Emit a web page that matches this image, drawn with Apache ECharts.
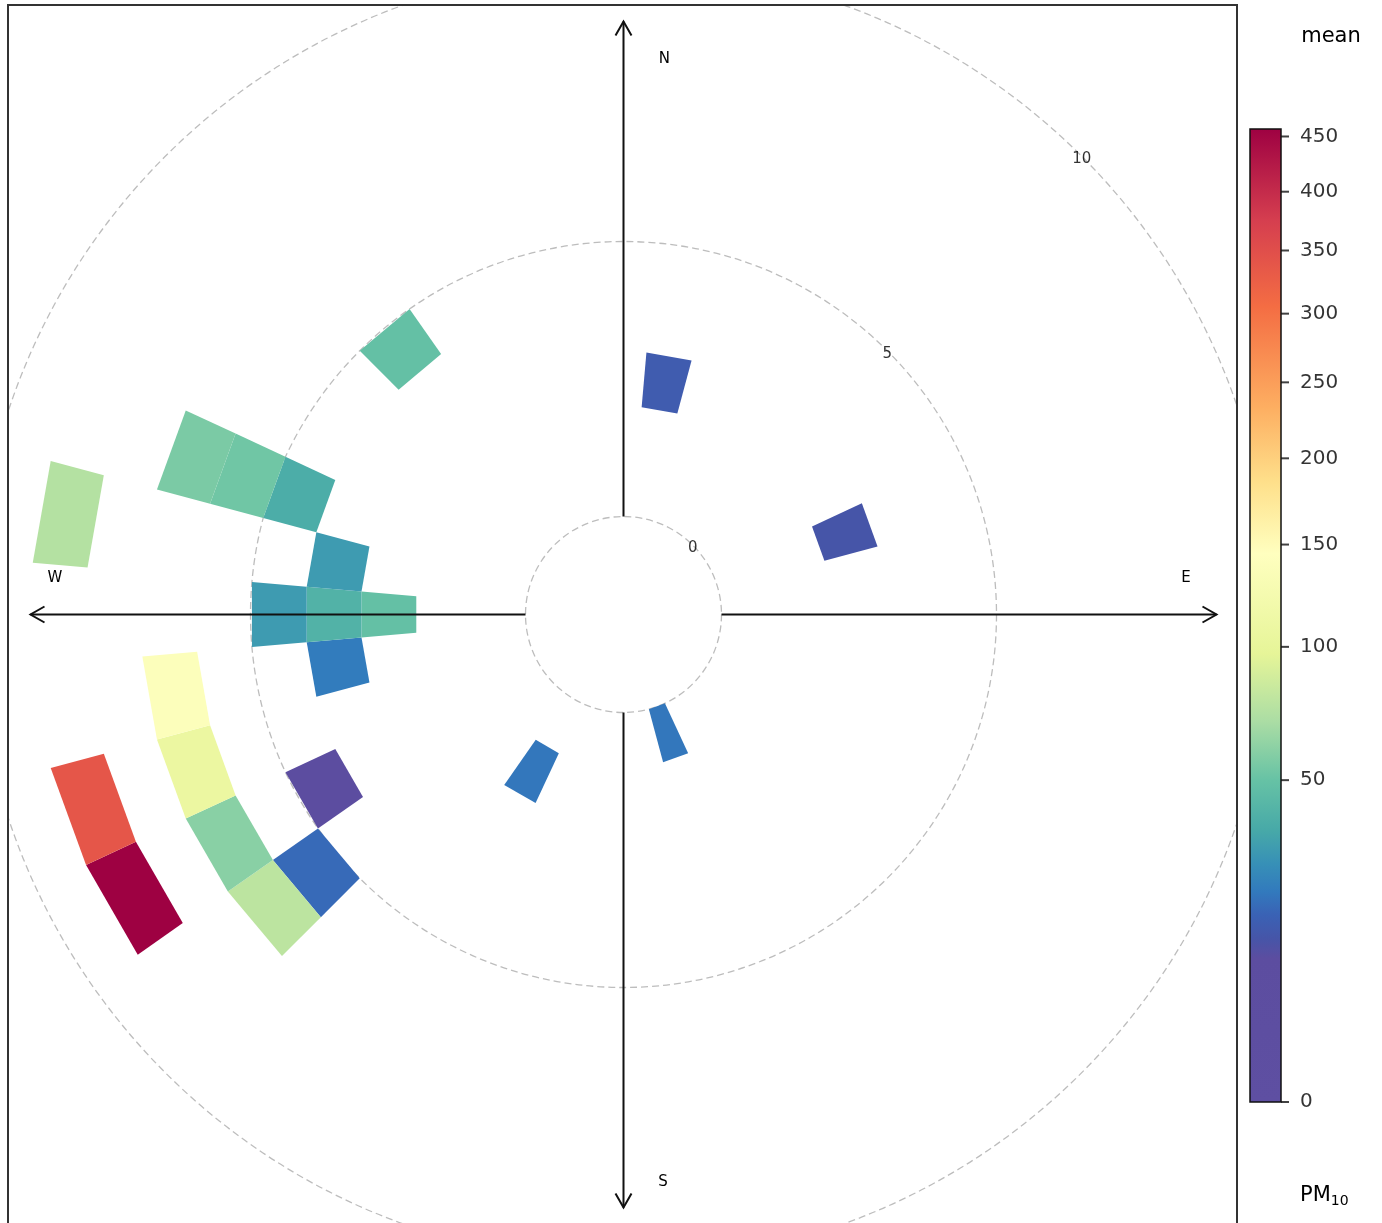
<!DOCTYPE html>
<html>
<head>
<meta charset="utf-8">
<script src="https://cdn.jsdelivr.net/npm/echarts@6/dist/echarts.min.js"></script>
<style>
html,body{margin:0;padding:0;background:#fff;}
#chart{width:1382px;height:1223px;}
</style>
</head>
<body>
<div id="chart"></div>
<script>
// ---------- data ----------
const windDir      = [10, 70, 160, 210, 230, 230, 240, 240, 240, 250, 250, 260, 260, 270, 270, 270, 280, 280, 290, 290, 290, 320];
const windSpeedBin = [ 2,  2,   0,   1,   5,   6,   4,   6,   8,   6,   8,   3,   6,   2,   3,   4,   3,   8,   4,   5,   6,   4];
const meanPM10     = [15, 13,  21,  21, 18.5, 78,   9,  60, 457, 108, 340,  22, 140,  49,  41,  31,  31,  74,  38,  53,  56,  49];
const radiusTicks  = [0, 5, 10];
const compassLabels = ['N', 'E', 'S', 'W'];
const compassAngles = [0, 90, 180, 270];
const keyTicks = [0, 50, 100, 150, 200, 250, 300, 350, 400, 450];
const keyMax = 457;

// ---------- colour palette (key colours sampled from the legend) ----------
const paletteValues = [0, 10, 13, 17, 21.5, 27.5, 35.7, 50, 70, 97, 145, 185, 233, 305, 375, 457];
const paletteColors = ['#5E4FA2','#5C4DA0','#4655A8','#3A62B5','#327ABD','#3790B7','#47A9A8','#66C2A5',
                       '#ABDDA4','#E6F598','#FFFFBF','#FEE08B','#FDAE61','#F46D43','#D53E4F','#9E0142'];
function colorIndex(v) {
  for (let i = 0; i < paletteValues.length - 1; i++) {
    if (v <= paletteValues[i + 1]) {
      return i + (v - paletteValues[i]) / (paletteValues[i + 1] - paletteValues[i]);
    }
  }
  return paletteValues.length - 1;
}
const gradientStops = paletteValues.map((v, i) => ({
  offset: 1 - Math.sqrt(v) / Math.sqrt(keyMax),
  color: paletteColors[i]
})).reverse();

const cellData = windDir.map((d, i) => [windSpeedBin[i], d, meanPM10[i], colorIndex(meanPM10[i])]);

const FONT = 'DejaVu Sans, Liberation Sans, sans-serif';
// label placement for the compass letters (polar radius, angle)
const compassLabelPos = [[8.38, 4.2], [8.47, 86.1], [8.52, 176], [8.58, 273.9]];

const chart = echarts.init(document.getElementById('chart'), null, {renderer: 'canvas'});

const option = {
  animation: false,
  backgroundColor: '#fff',
  polar: { center: [623.5, 614.5], radius: [98, 648] },
  angleAxis: {
    type: 'value', min: 0, max: 360, startAngle: 90, clockwise: true,
    axisLine: {show: false}, axisTick: {show: false}, axisLabel: {show: false}, splitLine: {show: false}
  },
  radiusAxis: {
    type: 'value', min: 0, max: 10, interval: 5,
    axisLine: {show: false}, axisTick: {show: false}, axisLabel: {show: false},
    splitLine: {show: true, lineStyle: {color: '#bdbdbd', width: 1.3, type: [7, 4]}}
  },
  grid: { left: 1250, top: 129, width: 31, height: 973 },
  xAxis: { type: 'value', min: 0, max: 1, show: false },
  yAxis: { type: 'value', min: 0, max: Math.sqrt(keyMax), show: false },
  visualMap: {
    show: false, type: 'continuous', seriesIndex: 0, dimension: 3,
    min: 0, max: paletteColors.length - 1,
    inRange: { color: paletteColors }
  },
  series: [
    {
      type: 'custom',
      coordinateSystem: 'polar',
      z: 2,
      data: cellData,
      renderItem: function (params, api) {
        const ws = api.value(0), dir = api.value(1);
        const pts = [
          api.coord([ws, dir - 5]),
          api.coord([ws, dir + 5]),
          api.coord([ws + 1, dir + 5]),
          api.coord([ws + 1, dir - 5])
        ];
        return { type: 'polygon', shape: { points: pts }, style: { fill: api.visual('color'), stroke: null } };
      }
    },
    {
      type: 'custom',
      coordinateSystem: 'polar',
      z: 3,
      data: compassAngles.map(a => [0, a]),
      renderItem: function (params, api) {
        const a = api.value(1);
        const p0 = api.coord([0, a]);
        const p1 = api.coord([9, a]);
        const dx = p1[0] - p0[0], dy = p1[1] - p0[1];
        const len = Math.sqrt(dx * dx + dy * dy);
        const ux = dx / len, uy = dy / len;
        const nx = -uy, ny = ux;
        const back = 14, side = 8;
        const arm1 = [p1[0] - back * ux + side * nx, p1[1] - back * uy + side * ny];
        const arm2 = [p1[0] - back * ux - side * nx, p1[1] - back * uy - side * ny];
        const lp = api.coord(compassLabelPos[params.dataIndex]);
        return {
          type: 'group',
          children: [
            { type: 'line', shape: { x1: p0[0], y1: p0[1], x2: p1[0], y2: p1[1] }, style: { stroke: '#111', lineWidth: 2 } },
            { type: 'polyline', shape: { points: [arm1, p1, arm2] }, style: { stroke: '#111', lineWidth: 2, fill: null } },
            { type: 'text', x: lp[0], y: lp[1] + 2, style: { text: compassLabels[params.dataIndex], fill: '#000', font: '15px ' + FONT, align: 'center', verticalAlign: 'middle' } }
          ]
        };
      }
    },
    {
      type: 'scatter',
      coordinateSystem: 'polar',
      z: 3,
      symbol: 'circle',
      symbolSize: 1,
      itemStyle: { color: 'rgba(0,0,0,0)' },
      data: radiusTicks.map(r => [r, 45]),
      label: {
        show: true, position: 'inside', offset: [0, 3],
        formatter: p => String(radiusTicks[p.dataIndex]),
        color: '#000', fontFamily: FONT, fontSize: 15
      },
      silent: true
    },
    {
      type: 'custom',
      coordinateSystem: 'cartesian2d',
      z: 20,
      data: [[0, 0]],
      renderItem: function (params, api) {
        const pTop = api.coord([0, Math.sqrt(keyMax)]);
        const pBot = api.coord([1, 0]);
        return {
          type: 'rect',
          shape: { x: pTop[0], y: pTop[1], width: pBot[0] - pTop[0], height: pBot[1] - pTop[1] },
          style: {
            fill: new echarts.graphic.LinearGradient(0, 0, 0, 1, gradientStops),
            stroke: '#111', lineWidth: 1.5
          }
        };
      }
    },
    {
      type: 'scatter',
      coordinateSystem: 'cartesian2d',
      z: 20,
      symbol: 'rect',
      symbolSize: [8, 2],
      symbolOffset: [4, 0],
      itemStyle: { color: '#111' },
      data: keyTicks.map(v => [1, Math.sqrt(v)]),
      label: {
        show: true, position: 'right', distance: 11,
        formatter: p => String(keyTicks[p.dataIndex]),
        color: '#000', fontFamily: FONT, fontSize: 20
      },
      silent: true
    }
  ],
  graphic: [
    { type: 'rect', z: 10, shape: { x: 0, y: 0, width: 1382, height: 5 }, style: { fill: '#fff' } },
    { type: 'rect', z: 10, shape: { x: 0, y: 0, width: 8, height: 1223 }, style: { fill: '#fff' } },
    { type: 'rect', z: 10, shape: { x: 1238, y: 0, width: 144, height: 1223 }, style: { fill: '#fff' } },
    { type: 'rect', z: 11, shape: { x: 8, y: 5, width: 1229, height: 1230 }, style: { fill: null, stroke: '#333', lineWidth: 2 } },
    { type: 'text', z: 21, x: 1331, y: 37, style: { text: 'mean', fill: '#000', font: '21px ' + FONT, align: 'center', verticalAlign: 'middle' } },
    { type: 'text', z: 21, x: 1300, y: 1196, style: {
        text: '{a|PM}{b|10}', fill: '#000', align: 'left', verticalAlign: 'middle',
        rich: { a: { fontSize: 21, fontFamily: FONT, fill: '#000' }, b: { fontSize: 14, fontFamily: FONT, fill: '#000', padding: [10, 0, 0, 0] } }
      } }
  ]
};
chart.setOption(option);
</script>
</body>
</html>
